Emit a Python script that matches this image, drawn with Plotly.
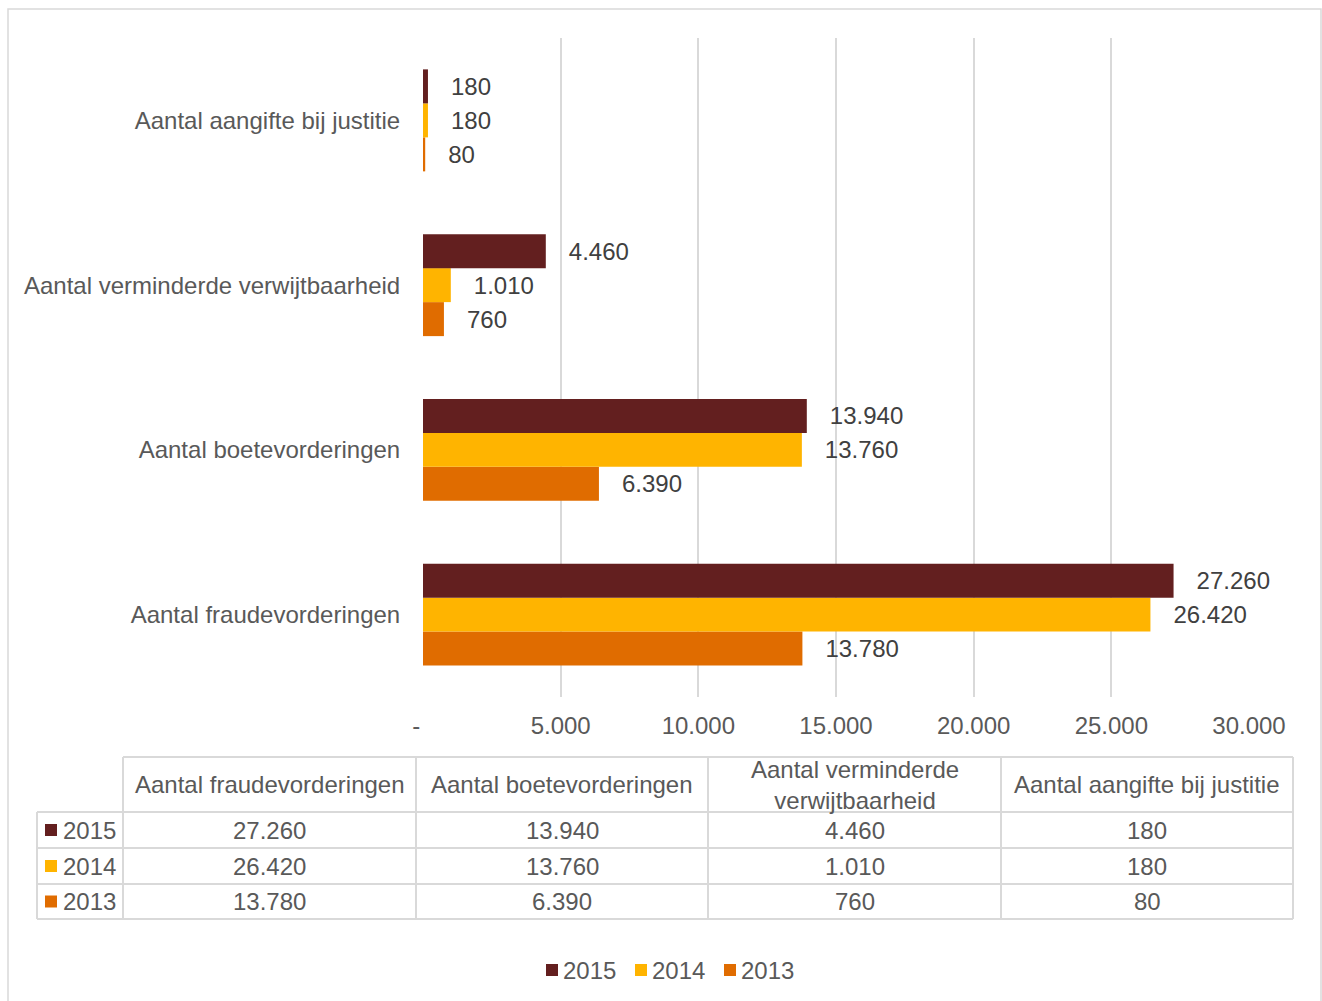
import plotly.graph_objects as go

# ---------------- data ----------------
categories = [
    "Aantal fraudevorderingen",
    "Aantal boetevorderingen",
    "Aantal verminderde verwijtbaarheid",
    "Aantal aangifte bij justitie",
]
table_headers = [
    "Aantal fraudevorderingen",
    "Aantal boetevorderingen",
    "Aantal verminderde<br>verwijtbaarheid",
    "Aantal aangifte bij justitie",
]
years = ["2015", "2014", "2013"]
values_2015 = [27260, 13940, 4460, 180]
values_2014 = [26420, 13760, 1010, 180]
values_2013 = [13780, 6390, 760, 80]
x_tickvals = [0, 5000, 10000, 15000, 20000, 25000, 30000]
x_ticktext = ["-\u00a0\u00a0", "5.000", "10.000", "15.000", "20.000", "25.000", "30.000"]

series = {"2015": values_2015, "2014": values_2014, "2013": values_2013}
colors = {"2015": "#631F1F", "2014": "#FFB400", "2013": "#E06C00"}

# ---------------- geometry helpers ----------------
W, H = 1322, 1001
FONT = "Liberation Sans, Arial, sans-serif"
FS = 24
GRAY = "#595959"
LINE = "#D9D9D9"


def fx(px):
    return px / W


def fy(py):
    return 1 - py / H


def fmt(v):
    return f"{v:,}".replace(",", ".")


fig = go.Figure()

# bars: add bottom-most series first so 2015 sits on top inside each group
for yr in ["2013", "2014", "2015"]:
    fig.add_trace(go.Bar(
        name=yr,
        y=categories,
        x=series[yr],
        orientation="h",
        marker=dict(color=colors[yr], line=dict(width=0)),
        texttemplate="\u00a0\u00a0\u00a0%{x:,.0f}",
        textposition="outside",
        textfont=dict(size=FS, color="#404040", family=FONT),
        constraintext="none",
        cliponaxis=False,
        hoverinfo="x+name",
    ))

shapes = []
annotations = []

# outer chart border
shapes.append(dict(type="rect", xref="paper", yref="paper",
                   x0=fx(8), x1=fx(1321), y0=fy(9), y1=fy(1012),
                   line=dict(color=LINE, width=1.5), fillcolor="rgba(0,0,0,0)", layer="below"))

# ---------------- data table ----------------
col_edges = [123, 416, 708, 1001, 1293]
row_edges = [757, 812, 848, 884, 919]
label_left = 37

shapes.append(dict(type="line", xref="paper", yref="paper",
                   x0=fx(col_edges[0]), x1=fx(col_edges[-1]), y0=fy(row_edges[0]), y1=fy(row_edges[0]),
                   line=dict(color=LINE, width=2)))
for ry in row_edges[1:]:
    shapes.append(dict(type="line", xref="paper", yref="paper",
                       x0=fx(label_left), x1=fx(col_edges[-1]), y0=fy(ry), y1=fy(ry),
                       line=dict(color=LINE, width=2)))
shapes.append(dict(type="line", xref="paper", yref="paper",
                   x0=fx(label_left), x1=fx(label_left), y0=fy(row_edges[1]), y1=fy(row_edges[-1]),
                   line=dict(color=LINE, width=2)))
for cx in col_edges:
    shapes.append(dict(type="line", xref="paper", yref="paper",
                       x0=fx(cx), x1=fx(cx), y0=fy(row_edges[0]), y1=fy(row_edges[-1]),
                       line=dict(color=LINE, width=2)))

for i, h in enumerate(table_headers):
    cx = (col_edges[i] + col_edges[i + 1]) / 2
    cy = (row_edges[0] + row_edges[1]) / 2
    annotations.append(dict(x=fx(cx), y=fy(cy), xref="paper", yref="paper", text=h,
                            showarrow=False, xanchor="center", yanchor="middle",
                            font=dict(size=FS, color=GRAY, family=FONT)))

for r, yr in enumerate(years):
    top, bot = row_edges[r + 1], row_edges[r + 2]
    cy = (top + bot) / 2
    shapes.append(dict(type="rect", xref="paper", yref="paper",
                       x0=fx(45), x1=fx(57), y0=fy(cy - 6), y1=fy(cy + 6),
                       fillcolor=colors[yr], line=dict(width=0)))
    annotations.append(dict(x=fx(61), y=fy(cy), xref="paper", yref="paper", text=yr,
                            showarrow=False, xanchor="left", yanchor="middle",
                            font=dict(size=FS, color=GRAY, family=FONT)))
    for i, v in enumerate(series[yr]):
        cx = (col_edges[i] + col_edges[i + 1]) / 2
        annotations.append(dict(x=fx(cx), y=fy(cy), xref="paper", yref="paper", text=fmt(v),
                                showarrow=False, xanchor="center", yanchor="middle",
                                font=dict(size=FS, color=GRAY, family=FONT)))

# ---------------- legend (bottom) ----------------
legend_x = {"2015": 546, "2014": 635, "2013": 724}
ly = 970
for yr in years:
    x0 = legend_x[yr]
    shapes.append(dict(type="rect", xref="paper", yref="paper",
                       x0=fx(x0), x1=fx(x0 + 12), y0=fy(ly - 6), y1=fy(ly + 6),
                       fillcolor=colors[yr], line=dict(width=0)))
    annotations.append(dict(x=fx(x0 + 15), y=fy(ly), xref="paper", yref="paper", text=yr,
                            showarrow=False, xanchor="left", yanchor="middle",
                            font=dict(size=FS, color=GRAY, family=FONT)))

fig.update_layout(
    template="none",
    width=W, height=H,
    autosize=False,
    margin=dict(l=0, r=0, t=0, b=0, pad=0),
    paper_bgcolor="white", plot_bgcolor="white",
    font=dict(family=FONT, size=FS, color=GRAY),
    separators=",.",
    barmode="group", bargap=0.381, bargroupgap=0,
    showlegend=False,
    xaxis=dict(domain=[fx(423), fx(1249)], range=[0, 30000], automargin=False,
               tickvals=x_tickvals, ticktext=x_ticktext,
               showgrid=True, gridcolor=LINE, gridwidth=1.5,
               zeroline=False, showline=False,
               ticks="outside", ticklen=7, tickcolor="rgba(0,0,0,0)",
               tickfont=dict(size=FS, color=GRAY, family=FONT)),
    yaxis=dict(domain=[fy(697), fy(38)], type="category", automargin=False,
               categoryorder="array", categoryarray=categories,
               showgrid=False, zeroline=False, showline=False,
               ticks="outside", ticklen=17, tickcolor="rgba(0,0,0,0)",
               tickfont=dict(size=FS, color=GRAY, family=FONT)),
    shapes=shapes,
    annotations=annotations,
)

fig.write_html("out.html", config={"displayModeBar": False},
               post_script="document.body.style.margin='0';")
